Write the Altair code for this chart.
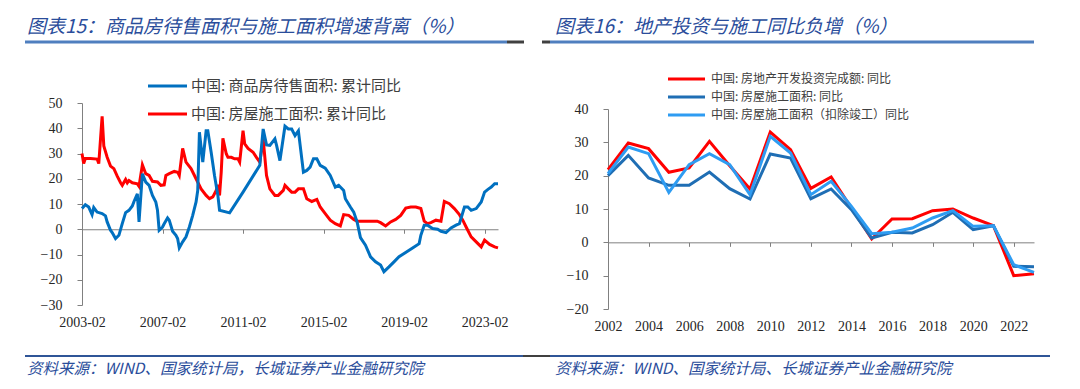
import altair as alt
import pandas as pd

# ---------------- data: left chart (monthly, cumulative YoY %) ----------------
left_blue_dates = [
    "2003-02", "2003-04", "2003-06", "2003-08", "2003-09", "2003-11", "2004-02", "2004-04",
    "2004-05", "2004-07", "2004-08", "2004-10", "2004-12", "2005-02", "2005-04", "2005-06",
    "2005-08", "2005-09", "2005-11", "2005-12", "2006-02", "2006-04", "2006-06", "2006-08",
    "2006-10", "2006-11", "2006-12", "2007-02", "2007-03", "2007-05", "2007-06", "2007-08",
    "2007-10", "2007-11", "2007-12", "2008-02", "2008-04", "2008-06", "2008-08", "2008-10",
    "2008-11", "2008-12", "2009-02", "2009-04", "2009-05", "2009-07", "2009-09", "2009-11",
    "2009-12", "2010-06", "2011-02", "2011-12", "2012-02", "2012-04", "2012-06", "2012-09",
    "2012-10", "2012-12", "2013-03", "2013-05", "2013-07", "2013-09", "2013-11", "2014-02",
    "2014-04", "2014-06", "2014-08", "2014-10", "2014-12", "2015-03", "2015-06", "2015-09",
    "2015-11", "2016-02", "2016-03", "2016-06", "2016-08", "2016-10", "2016-12", "2017-03",
    "2017-06", "2017-09", "2017-12", "2018-02", "2018-05", "2018-08", "2018-11", "2019-02",
    "2019-05", "2019-08", "2019-11", "2019-12", "2020-02", "2020-04", "2020-07", "2020-10",
    "2020-12", "2021-03", "2021-06", "2021-09", "2021-11", "2022-02", "2022-04", "2022-06",
    "2022-09", "2022-12", "2023-02", "2023-04", "2023-06", "2023-08", "2023-10",
]
left_blue_values = [
    8.2, 9.7, 8.8, 5.8, 8.6, 6.8, 6.2, 5.3,
    2.9, -0.4, -1.3, -3.7, -2.4, 2.2, 6.6, 7.5,
    9.2, 11.0, 14.0, 2.9, 22.0, 18.7, 17.4, 13.4,
    10.8, 7.5, -0.4, 0.9, 2.2, 4.5, 3.6, -0.8,
    -2.4, -3.7, -7.4, -5.0, -3.0, 0.9, 5.5, 10.8,
    15.4, 38.4, 26.6, 39.0, 39.0, 30.5, 21.3, 13.4,
    7.5, 6.5, 14.7, 25.3, 39.7, 33.4, 33.2, 35.8,
    33.2, 27.2, 40.8, 39.7, 39.7, 37.1, 39.0, 22.6,
    23.3, 24.6, 27.9, 27.9, 25.3, 24.2, 21.3, 16.7,
    17.4, 15.4, 12.1, 8.8, 6.8, 2.9, -3.3, -6.3,
    -10.9, -12.9, -14.2, -16.8, -14.9, -12.9, -10.9, -9.6,
    -8.3, -7.0, -5.7, -2.4, 1.6, 1.6, 0.3, 0.0,
    -0.8, -1.3, 0.5, 1.6, 2.2, 8.8, 8.8, 7.5,
    8.2, 10.8, 14.7, 15.8, 16.7, 18.0, 18.0,
]
left_red_dates = [
    "2003-02", "2003-03", "2003-04", "2003-07", "2003-11", "2003-12", "2004-02", "2004-03",
    "2004-05", "2004-07", "2004-09", "2004-11", "2005-01", "2005-02", "2005-04", "2005-05",
    "2005-06", "2005-08", "2005-11", "2005-12", "2006-02", "2006-04", "2006-06", "2006-08",
    "2006-11", "2007-01", "2007-03", "2007-04", "2007-06", "2007-09", "2007-11", "2007-12",
    "2008-02", "2008-04", "2008-07", "2008-10", "2009-01", "2009-04", "2009-06", "2009-08",
    "2009-10", "2009-11", "2009-12", "2010-01", "2010-02", "2010-04", "2010-05", "2010-07",
    "2010-09", "2010-11", "2010-12", "2011-02", "2011-03", "2011-05", "2011-08", "2011-10",
    "2011-12", "2012-02", "2012-04", "2012-06", "2012-09", "2012-11", "2013-02", "2013-03",
    "2013-05", "2013-07", "2013-09", "2013-11", "2014-02", "2014-04", "2014-07", "2014-10",
    "2014-12", "2015-03", "2015-06", "2015-09", "2015-12", "2016-02", "2016-05", "2016-08",
    "2016-10", "2017-01", "2017-04", "2017-10", "2017-12", "2018-03", "2018-06", "2018-09",
    "2018-12", "2019-03", "2019-06", "2019-09", "2019-12", "2020-02", "2020-04", "2020-06",
    "2020-09", "2020-12", "2021-02", "2021-05", "2021-08", "2021-11", "2022-01", "2022-03",
    "2022-06", "2022-09", "2022-12", "2023-02", "2023-05", "2023-08", "2023-10",
]
left_red_values = [
    30.0, 26.0, 28.0, 28.0, 27.8, 26.0, 44.7, 33.0,
    28.5, 25.0, 24.0, 21.0, 18.4, 17.4, 19.7, 18.4,
    19.3, 18.4, 18.0, 17.0, 25.5, 22.0, 21.3, 19.0,
    18.7, 17.4, 17.6, 21.3, 22.0, 22.9, 22.6, 21.3,
    32.0, 26.6, 24.0, 20.0, 16.0, 13.4, 12.1, 12.8,
    15.4, 17.6, 13.4, 22.6, 36.0, 29.9, 28.5, 28.5,
    27.9, 27.9, 26.6, 39.0, 33.8, 32.0, 30.5, 28.5,
    26.6, 35.8, 21.3, 16.0, 13.4, 13.4, 15.4, 17.4,
    16.0, 14.7, 14.7, 16.0, 16.0, 12.1, 11.0, 11.8,
    8.8, 6.2, 3.6, 2.2, 1.3, 5.8, 5.5, 3.9,
    3.2, 3.2, 3.2, 3.2, 2.6, 1.3, 2.9, 3.9,
    5.5, 8.4, 8.8, 8.8, 8.2, 3.2, 2.2, 2.6,
    3.6, 3.2, 11.0, 10.1, 8.2, 5.8, 3.6, 0.9,
    -3.0, -5.0, -7.0, -4.3, -6.0, -7.0, -7.4,
]
left_tick_labels = ["2003-02", "2007-02", "2011-02", "2015-02", "2019-02", "2023-02"]
left_x_range = ["2003-02", "2023-10"]
left_y_ticks = [-30, -20, -10, 0, 10, 20, 30, 40, 50]

# ---------------- data: right chart (annual YoY %) ----------------
right_years = list(range(2002, 2024))
right_invest = [21.8, 29.8, 28.1, 21.0, 22.3, 30.3, 23.0, 16.0, 33.1, 27.8, 16.2,
                19.6, 10.3, 1.0, 7.0, 7.1, 9.5, 10.0, 7.3, 5.0, -10.0, -9.4]
right_const = [20.0, 26.1, 19.3, 17.1, 17.1, 21.1, 16.1, 13.0, 26.5, 25.3, 13.1,
               16.0, 9.8, 1.3, 3.0, 2.8, 5.3, 9.0, 3.8, 5.0, -7.2, -7.3]
right_const_ex = [20.6, 28.6, 26.6, 15.0, 23.3, 26.6, 23.3, 14.3, 31.8, 26.8, 14.3,
                  18.3, 10.8, 2.6, 3.0, 4.3, 7.3, 9.5, 4.8, 5.0, -6.7, -9.0]
right_tick_years = list(range(2002, 2023, 2))
right_y_ticks = [-20, -10, 0, 10, 20, 30, 40]

# ---------------- text ----------------
title_left = "图表15：商品房待售面积与施工面积增速背离（%）"
title_right = "图表16：地产投资与施工同比负增（%）"
legend_left = ["中国: 商品房待售面积: 累计同比", "中国: 房屋施工面积: 累计同比"]
legend_right = ["中国: 房地产开发投资完成额: 同比", "中国: 房屋施工面积: 同比", "中国: 房屋施工面积（扣除竣工）同比"]
source_left = "资料来源：WIND、国家统计局，长城证券产业金融研究院"
source_right = "资料来源：WIND、国家统计局、长城证券产业金融研究院"

# ---------------- styles ----------------
BLUE = "#0070C0"
RED = "#FF0000"
DBLUE = "#1F6EB4"
LBLUE = "#2E9CF2"
TITLE_C = "#2A4D9B"
RULE_C = "#4F7FBF"
GRAY = "#404040"
AX = "#808080"
CJK = "Noto Sans CJK SC"
SERIF = "Liberation Serif"

LW, LH = 416, 202
RW, RH = 426, 206


def ym_to_num(s):
    y, m = s.split("-")
    return int(y) + (int(m) - 1) / 12.0


def txt(s, x, y, size, color, italic=False):
    return alt.Chart(pd.DataFrame({"t": [s]})).mark_text(
        align="left", baseline="middle", font=CJK, fontSize=size, color=color,
        fontStyle="italic" if italic else "normal",
    ).encode(x=alt.value(x), y=alt.value(y), text="t:N")


def hline(x1, x2, y, color, w):
    return alt.Chart(pd.DataFrame({"a": [0]})).mark_rule(color=color, strokeWidth=w).encode(
        x=alt.value(x1), x2=alt.value(x2), y=alt.value(y))


# ---------------- left panel ----------------
lxscale = alt.Scale(domain=[ym_to_num(s) for s in left_x_range], nice=False, zero=False)
ltick_vals = [ym_to_num(s) for s in left_tick_labels]
label_expr = ("toString(floor(datum.value + 0.001)) + '-' + "
              "format(round((datum.value - floor(datum.value + 0.001)) * 12) + 1, '02d')")
lyscale = alt.Scale(domain=[-30, 50], nice=False, zero=False)
lyaxis = alt.Axis(values=left_y_ticks, title=None, grid=False, tickSize=5, labelPadding=15,
                  domainColor=AX, tickColor=AX, labelFont=SERIF, labelFontSize=14,
                  labelColor="#262626", format="d")
lx_label_axis = alt.Axis(values=ltick_vals, labelExpr=label_expr, title=None,
                         grid=False, domain=False, ticks=False, tickSize=0, labelPadding=10,
                         labelFont=SERIF, labelFontSize=14, labelColor="#262626",
                         labelOverlap=False, labelFlush=False, orient="bottom")
lx_zero_axis = alt.Axis(values=ltick_vals, labels=False, title=None, grid=False, ticks=True,
                        tickSize=4, domain=True, domainColor=AX, tickColor=AX,
                        offset=-LH * 30 / 80, orient="bottom")

ldf_b = pd.DataFrame({"t": [ym_to_num(s) for s in left_blue_dates], "v": left_blue_values})
ldf_r = pd.DataFrame({"t": [ym_to_num(s) for s in left_red_dates], "v": left_red_values})

l_red = alt.Chart(ldf_r).mark_line(color=RED, strokeWidth=3).encode(
    x=alt.X("t:Q", scale=lxscale, axis=lx_zero_axis),
    y=alt.Y("v:Q", scale=lyscale, axis=lyaxis))
l_blue = alt.Chart(ldf_b).mark_line(color=BLUE, strokeWidth=3).encode(
    x=alt.X("t:Q", scale=lxscale, axis=lx_label_axis),
    y=alt.Y("v:Q", scale=lyscale, axis=lyaxis))

left_decor = [
    txt(title_left, -55, -76, 19, TITLE_C, italic=True),
    hline(-57, 425, -61, RULE_C, 3),
    hline(425, 442, -61, GRAY, 3),
    hline(66, 105, -17, BLUE, 3),
    txt(legend_left[0], 109, -17, 15, GRAY),
    hline(66, 105, 11, RED, 3),
    txt(legend_left[1], 109, 11, 15, GRAY),
    hline(-57, 441, 253, "#2F5597", 2),
    hline(441, 468, 253, GRAY, 2),
    txt(source_left, -55, 266, 15.5, TITLE_C, italic=True),
]

left = alt.layer(l_red, l_blue, *left_decor).resolve_axis(x="independent").properties(
    width=LW, height=LH)

# ---------------- right panel ----------------
rxscale = alt.Scale(domain=[2002, 2023], nice=False, zero=False)
ryscale = alt.Scale(domain=[-20, 40], range=[RH, 6], nice=False, zero=False)
ryaxis = alt.Axis(values=right_y_ticks, title=None, grid=False, tickSize=5, labelPadding=15,
                  domainColor=AX, tickColor=AX, labelFont=SERIF, labelFontSize=14,
                  labelColor="#262626", format="d")
rx_label_axis = alt.Axis(values=right_tick_years, format="d", title=None, grid=False,
                         domain=False, ticks=False, tickSize=0, labelPadding=10,
                         labelFont=SERIF, labelFontSize=14, labelColor="#262626",
                         labelOverlap=False, labelFlush=False, orient="bottom")
rx_zero_axis = alt.Axis(values=right_tick_years, labels=False, title=None, grid=False,
                        ticks=True, tickSize=4, domain=True, domainColor=AX, tickColor=AX,
                        offset=-(RH - (6 + 200 * 40 / 60)), orient="bottom")

rdf = pd.DataFrame({"year": right_years, "invest": right_invest,
                    "const": right_const, "const_ex": right_const_ex})

r_red = alt.Chart(rdf).mark_line(color=RED, strokeWidth=3).encode(
    x=alt.X("year:Q", scale=rxscale, axis=rx_label_axis),
    y=alt.Y("invest:Q", scale=ryscale, axis=ryaxis))
r_dblue = alt.Chart(rdf).mark_line(color=DBLUE, strokeWidth=3).encode(
    x=alt.X("year:Q", scale=rxscale, axis=rx_zero_axis),
    y=alt.Y("const:Q", scale=ryscale, axis=ryaxis))
r_lblue = alt.Chart(rdf).mark_line(color=LBLUE, strokeWidth=3).encode(
    x=alt.X("year:Q", scale=rxscale, axis=None),
    y=alt.Y("const_ex:Q", scale=ryscale, axis=ryaxis))

right_decor = [
    txt(title_right, -53, -76, 19, TITLE_C, italic=True),
    hline(-66, -58, -61, GRAY, 3),
    hline(-58, 426, -61, RULE_C, 3),
    hline(60, 97, -24, RED, 3),
    txt(legend_right[0], 103, -24, 12, GRAY),
    hline(60, 97, -6, DBLUE, 3),
    txt(legend_right[1], 103, -6, 12, GRAY),
    hline(60, 97, 12, LBLUE, 3),
    txt(legend_right[2], 103, 12, 12, GRAY),
    hline(-58, 442, 253, "#2F5597", 2),
    txt(source_right, -53, 266, 15.5, TITLE_C, italic=True),
]

right = alt.layer(r_red, r_dblue, r_lblue, *right_decor).resolve_axis(x="independent").properties(
    width=RW, height=RH)

chart = alt.hconcat(left, right, spacing=110, bounds="flush").properties(
    padding={"left": 15, "top": 10, "right": 0, "bottom": 0},
    background="white",
).configure_view(stroke=None)

chart.save("out.html", embed_options={"renderer": "svg", "actions": False})
